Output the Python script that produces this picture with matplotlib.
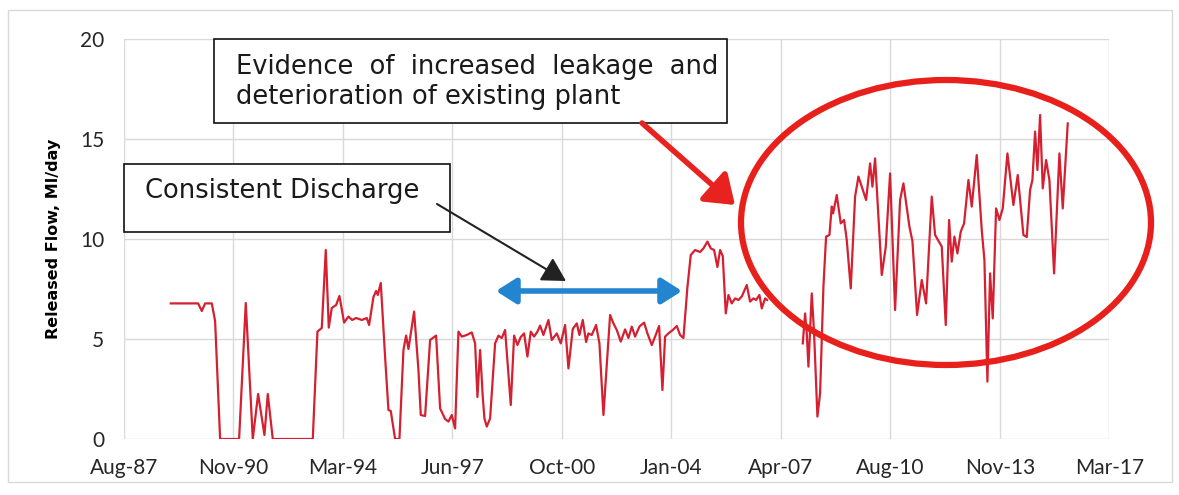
from datetime import datetime

import matplotlib
matplotlib.use("Agg")
import matplotlib.dates as mdates
import matplotlib.patches as patches
import matplotlib.pyplot as plt
import numpy as np

# released flow (decimal year, Ml/day); nan = gap in record
years = [
    1989.02, 1989.84, 1989.95, 1990.05, 1990.25, 1990.35, 1990.50, 1991.07, 1991.27, 1991.48,
    1991.64, 1991.83, 1991.93, 1992.08, 1993.28, 1993.42, 1993.55, 1993.67, 1993.76, 1993.85,
    1993.98, 1994.08, 1994.22, 1994.35, 1994.46, 1994.58, 1994.75, 1994.90, 1994.97, 1995.10,
    1995.18, 1995.23, 1995.32, 1995.45, 1995.55, 1995.62, 1995.75, 1995.88, 1996.00, 1996.08,
    1996.15, 1996.32, 1996.45, 1996.52, 1996.65, 1996.80, 1996.98, 1997.10, 1997.25, 1997.35,
    1997.45, 1997.55, 1997.65, 1997.75, 1997.90, 1998.05, 1998.15, 1998.22, 1998.30, 1998.38,
    1998.43, 1998.50, 1998.60, 1998.75, 1998.85, 1998.95, 1999.05, 1999.22, 1999.32, 1999.42,
    1999.52, 1999.62, 1999.72, 1999.82, 1999.92, 2000.02, 2000.10, 2000.20, 2000.35, 2000.45,
    2000.60, 2000.72, 2000.85, 2000.95, 2001.08, 2001.20, 2001.28, 2001.38, 2001.48, 2001.55,
    2001.65, 2001.78, 2001.88, 2002.00, 2002.20, 2002.30, 2002.40, 2002.52, 2002.65, 2002.75,
    2002.85, 2002.95, 2003.08, 2003.22, 2003.32, 2003.45, 2003.55, 2003.67, 2003.77, 2003.85,
    2003.95, 2004.08, 2004.20, 2004.30, 2004.40, 2004.52, 2004.62, 2004.75, 2004.90, 2005.00,
    2005.12, 2005.22, 2005.32, 2005.42, 2005.50, 2005.58, 2005.67, 2005.75, 2005.85, 2005.95,
    2006.05, 2006.15, 2006.30, 2006.40, 2006.50, 2006.58, 2006.68, 2006.75, 2006.85, 2006.91,
    2007.50, 2007.98, 2008.05, 2008.10, 2008.15, 2008.25, 2008.32, 2008.42, 2008.50, 2008.60,
    2008.68, 2008.78, 2008.85, 2008.89, 2009.00, 2009.12, 2009.22, 2009.30, 2009.42, 2009.55,
    2009.65, 2009.75, 2009.88, 2010.00, 2010.07, 2010.15, 2010.35, 2010.47, 2010.60, 2010.75,
    2010.90, 2011.00, 2011.18, 2011.27, 2011.41, 2011.55, 2011.68, 2011.85, 2011.95, 2012.15,
    2012.27, 2012.37, 2012.45, 2012.53, 2012.62, 2012.72, 2012.82, 2012.95, 2013.05, 2013.20,
    2013.35, 2013.43, 2013.52, 2013.60, 2013.68, 2013.78, 2013.88, 2013.98, 2014.12, 2014.30,
    2014.43, 2014.60, 2014.70, 2014.80, 2014.87, 2014.95, 2015.02, 2015.10, 2015.18, 2015.28,
    2015.38, 2015.52, 2015.68, 2015.78, 2015.93,
]
flow = [
    6.78, 6.78, 6.40, 6.78, 6.78, 5.90, 0.00, 0.00, 6.80, 0.00,
    2.25, 0.20, 2.25, 0.00, 0.00, 5.37, 5.55, 9.45, 5.57, 6.55,
    6.70, 7.15, 5.82, 6.12, 5.95, 6.05, 5.95, 6.05, 5.70, 7.10,
    7.40, 7.20, 7.80, 4.10, 1.45, 1.40, 0.00, 0.00, 4.45, 5.17,
    4.50, 6.37, 3.45, 1.20, 1.15, 4.95, 5.17, 1.53, 1.00, 0.87,
    1.20, 0.53, 5.37, 5.12, 5.20, 5.33, 4.78, 2.10, 4.45, 2.10,
    1.03, 0.62, 1.03, 4.78, 5.17, 5.05, 5.45, 1.70, 5.17, 4.70,
    5.10, 5.28, 4.12, 5.37, 5.12, 5.37, 5.67, 5.20, 5.95, 4.95,
    5.28, 4.78, 5.70, 3.53, 5.50, 5.78, 5.20, 5.95, 4.85, 5.28,
    5.20, 5.70, 4.78, 1.20, 6.20, 5.78, 5.45, 4.87, 5.48, 5.05,
    5.62, 5.12, 5.62, 5.82, 5.28, 4.70, 5.12, 5.65, 2.45, 5.12,
    5.28, 5.45, 5.65, 5.20, 5.05, 7.60, 9.20, 9.45, 9.35, 9.53,
    9.87, 9.53, 9.45, 8.60, 9.45, 9.15, 6.28, 7.20, 6.78, 7.03,
    6.95, 7.12, 7.70, 6.87, 7.03, 6.95, 7.20, 6.53, 7.03, 6.95,
    np.nan, 4.78, 6.28, 5.28, 3.62, 7.28, 5.28, 1.12, 2.28, 7.62,
    10.12, 10.20, 11.62, 11.28, 12.20, 10.78, 10.95, 9.95, 7.53, 12.12,
    13.12, 12.62, 11.95, 13.78, 12.62, 14.03, 8.20, 9.60, 13.28, 6.45,
    11.95, 12.78, 10.62, 9.90, 6.20, 7.95, 6.78, 12.12, 10.20, 9.62,
    5.70, 10.95, 8.87, 10.12, 9.28, 10.37, 10.78, 12.95, 11.62, 14.20,
    10.45, 8.95, 2.87, 8.28, 6.03, 11.53, 10.95, 11.53, 14.28, 11.70,
    13.20, 10.20, 10.10, 12.45, 12.95, 15.37, 13.45, 16.20, 12.53, 13.95,
    12.95, 8.28, 14.28, 11.53, 15.78,
]

tick_dates = ["1987-08-12", "1990-11-23", "1994-03-08", "1997-06-20", "2000-10-02",
              "2004-01-14", "2007-04-28", "2010-08-10", "2013-11-22", "2017-03-06"]
tick_labels = ["Aug-87", "Nov-90", "Mar-94", "Jun-97", "Oct-00",
               "Jan-04", "Apr-07", "Aug-10", "Nov-13", "Mar-17"]
y_ticks = [0, 5, 10, 15, 20]

W_PX, H_PX = 1179, 495


def P(x, y):
    # figure pixel (from top-left) -> figure fraction
    return (x / W_PX, 1 - y / H_PX)


def year_num(y):
    return mdates.date2num(datetime(1987, 1, 1)) + (y - 1987) * 365.25


x = [year_num(y) for y in years]
tick_nums = [mdates.date2num(datetime.strptime(d, "%Y-%m-%d")) for d in tick_dates]

plt.rcParams["font.family"] = ["Lato", "DejaVu Sans"]

fig = plt.figure(figsize=(W_PX / 100, H_PX / 100), dpi=100)
fig.patch.set_facecolor("white")

# light outer chart frame
fig.add_artist(patches.Rectangle(P(8, 482), 1164 / W_PX, 472 / H_PX,
                                 transform=fig.transFigure, fill=False,
                                 edgecolor="#D9D9D9", lw=1))

l, b = P(123.8, 439)
r, t = P(1109.3, 39)
ax = fig.add_axes([l, b, r - l, t - b])

ax.plot(x, flow, color="#D42030", lw=1.6, zorder=3)

ax.set_xlim(tick_nums[0], tick_nums[-1])
ax.set_ylim(0, 20)
ax.set_xticks(tick_nums)
ax.set_xticklabels(tick_labels)
ax.set_yticks(y_ticks)
ax.tick_params(length=0, labelsize=15, colors="#262626")
ax.tick_params(axis="x", pad=14)
ax.tick_params(axis="y", pad=14)
ax.grid(True, color="#D9D9D9", lw=1)
ax.set_axisbelow(True)
for s in ax.spines.values():
    s.set_visible(False)

ax.set_ylabel("Released Flow, Ml/day", fontsize=11.5, fontweight="bold",
              family="DejaVu Sans", labelpad=14)

# annotation boxes
txt_kw = dict(fontsize=18.5, family="DejaVu Sans", color="#1a1a1a",
              transform=fig.transFigure, va="center", ha="left")

fig.add_artist(patches.Rectangle(P(214, 123), 513 / W_PX, 84 / H_PX,
                                 transform=fig.transFigure, facecolor="white",
                                 edgecolor="#111111", lw=1.2, zorder=4))
fig.text(*P(236, 67), "Evidence  of  increased  leakage  and", zorder=5, **txt_kw)
fig.text(*P(236, 97), "deterioration of existing plant", zorder=5, **txt_kw)

fig.add_artist(patches.Rectangle(P(124, 232), 326 / W_PX, 68 / H_PX,
                                 transform=fig.transFigure, facecolor="white",
                                 edgecolor="#111111", lw=1.2, zorder=4))
fig.text(*P(145, 191), "Consistent Discharge", zorder=5, **txt_kw)

# arrows
fig.add_artist(patches.FancyArrowPatch(
    P(437, 204), P(566, 281), transform=fig.transFigure,
    arrowstyle="-|>,head_length=0.8,head_width=0.45", mutation_scale=18,
    color="#222222", lw=1.5, shrinkA=0, shrinkB=0, zorder=6))

fig.add_artist(patches.FancyArrowPatch(
    P(496, 291), P(682, 291), transform=fig.transFigure,
    arrowstyle="<|-|>,head_length=0.55,head_width=0.35", mutation_scale=22,
    color="#2385CF", lw=4, shrinkA=0, shrinkB=0, zorder=6))

fig.add_artist(patches.FancyArrowPatch(
    P(642, 123), P(735, 205), transform=fig.transFigure,
    arrowstyle="-|>,head_length=0.7,head_width=0.5", mutation_scale=24,
    color="#E8231F", lw=4, shrinkA=0, shrinkB=0, zorder=6))

cx, cy = P(946, 222.5)
fig.add_artist(patches.Ellipse((cx, cy), 410 / W_PX, 285 / H_PX,
                               transform=fig.transFigure, fill=False,
                               edgecolor="#E8201C", lw=4.5, zorder=6))

fig.savefig("out.png", dpi=100)
